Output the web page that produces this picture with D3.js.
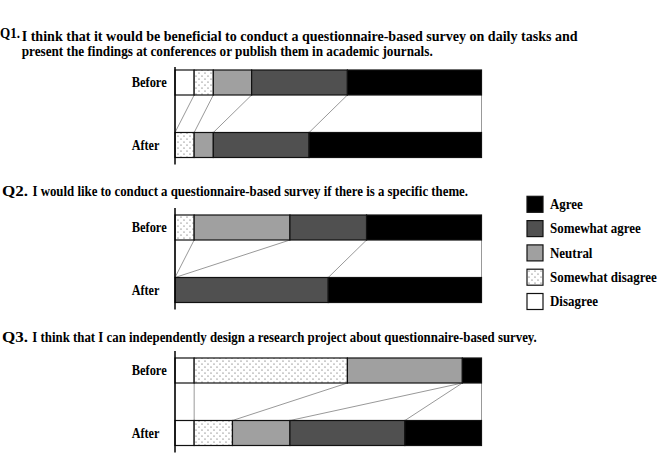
<!DOCTYPE html>
<html>
<head>
<meta charset="utf-8">
<script src="https://cdn.jsdelivr.net/npm/d3@7"></script>
<style>
html,body{margin:0;padding:0;background:#fff;}
svg{display:block;}
text{font-family:"Liberation Serif","Times New Roman",serif;font-weight:bold;fill:#000;}
</style>
</head>
<body>
<svg id="chart" width="669" height="456"></svg>
<script>
// ---- data (counts of respondents, n = 16) ----
const categories = ["Disagree", "Somewhat disagree", "Neutral", "Somewhat agree", "Agree"];
const legendOrder = ["Agree", "Somewhat agree", "Neutral", "Somewhat disagree", "Disagree"];
const rowLabels = ["Before", "After"];
const q1Before = [1, 1, 2, 5, 7];
const q1After  = [0, 1, 1, 5, 9];
const q2Before = [0, 1, 5, 4, 6];
const q2After  = [0, 0, 0, 8, 8];
const q3Before = [1, 8, 6, 0, 1];
const q3After  = [1, 2, 3, 6, 4];
const questionNumbers = ["Q1.", "Q2.", "Q3."];
const questionLines = [
  ["I think that it would be beneficial to conduct a questionnaire-based survey on daily tasks and",
   "present the findings at conferences or publish them in academic journals."],
  ["I would like to conduct a questionnaire-based survey if there is a specific theme."],
  ["I think that I can independently design a research project about questionnaire-based survey."]
];

const questions = [
  {before: q1Before, after: q1After},
  {before: q2Before, after: q2After},
  {before: q3Before, after: q3After}
];

// ---- layout ----
const svg = d3.select("#chart");
const total = 16;
const x = d3.scaleLinear().domain([0, total]).range([175, 481.5]);
const barH = 25, gapH = 37.5;
const panelTops = [70, 215, 358];
const FS = 14.5;
const fills = {
  "Agree": "#000000",
  "Somewhat agree": "#505050",
  "Neutral": "#a0a0a0",
  "Somewhat disagree": "url(#dots)",
  "Disagree": "#ffffff"
};

// dotted pattern
const defs = svg.append("defs");
const pat = defs.append("pattern").attr("id", "dots").attr("patternUnits", "userSpaceOnUse")
  .attr("width", 6).attr("height", 6);
pat.append("rect").attr("width", 6).attr("height", 6).attr("fill", "#fff");
pat.append("circle").attr("cx", 1).attr("cy", 1).attr("r", 0.6).attr("fill", "#444");
pat.append("circle").attr("cx", 4).attr("cy", 4).attr("r", 0.6).attr("fill", "#444");

// ---- titles ----
const titleSpec = [
  {num: {x: 0, y: 37.5, len: 20}, lines: [{x: 21.7, y: 40.5, len: 556}, {x: 21.7, y: 55.5, len: 411}]},
  {num: {x: 2, y: 195.5, len: 26}, lines: [{x: 32.5, y: 195.5, len: 435.5}]},
  {num: {x: 2, y: 341.5, len: 26}, lines: [{x: 32.3, y: 341.5, len: 504.5}]}
];
titleSpec.forEach((t, i) => {
  svg.append("text").attr("x", t.num.x).attr("y", t.num.y)
    .attr("font-size", FS)
    .attr("textLength", t.num.len).attr("lengthAdjust", "spacingAndGlyphs")
    .text(questionNumbers[i]);
  t.lines.forEach((l, j) => {
    svg.append("text").attr("x", l.x).attr("y", l.y)
      .attr("font-size", FS)
      .attr("textLength", l.len).attr("lengthAdjust", "spacingAndGlyphs")
      .text(questionLines[i][j]);
  });
});

// ---- panels ----
function cumul(arr) {
  const c = [0];
  arr.forEach(v => c.push(c[c.length - 1] + v));
  return c;
}
const labelLens = [35, 27.6];

questions.forEach((q, i) => {
  const top = panelTops[i];
  const yB = top, yA = top + barH + gapH;
  const g = svg.append("g");
  const cb = cumul(q.before), ca = cumul(q.after);

  // connector lines
  g.selectAll("line.conn").data(d3.range(cb.length)).join("line")
    .attr("class", "conn")
    .attr("x1", k => x(cb[k])).attr("y1", yB + barH)
    .attr("x2", k => x(ca[k])).attr("y2", yA)
    .attr("stroke", "#999").attr("stroke-width", 1);

  [[q.before, cb, yB], [q.after, ca, yA]].forEach(([vals, c, y0]) => {
    g.selectAll(null).data(categories.map((cat, k) => ({cat, v: vals[k], s: c[k]})).filter(d => d.v > 0))
      .join("rect")
      .attr("x", d => x(d.s)).attr("y", y0)
      .attr("width", d => x(d.s + d.v) - x(d.s)).attr("height", barH)
      .attr("fill", d => fills[d.cat])
      .attr("stroke", "#111").attr("stroke-width", 1.2);
  });

  // axis line
  g.append("line").attr("x1", x(0)).attr("x2", x(0))
    .attr("y1", yB - (i === 0 ? 3 : 7)).attr("y2", yA + barH + 7)
    .attr("stroke", "#000").attr("stroke-width", 1.5);

  // row labels
  [yB, yA].forEach((y0, r) => {
    g.append("text").attr("x", 131.7).attr("y", y0 + barH / 2 + 4.8)
      .attr("font-size", FS)
      .attr("textLength", labelLens[r]).attr("lengthAdjust", "spacingAndGlyphs")
      .text(rowLabels[r]);
  });
});

// ---- legend ----
const lg = svg.append("g");
const legTexts = [];
legendOrder.forEach((cat, k) => {
  const cy = 204.3 + k * 24.3;
  lg.append("rect").attr("x", 527).attr("y", cy - 8).attr("width", 16).attr("height", 16)
    .attr("fill", fills[cat]).attr("stroke", "#111").attr("stroke-width", 1.2);
  legTexts.push(lg.append("text").attr("x", 550).attr("y", cy + 4.8).attr("font-size", FS).text(cat));
});
// condense legend text so the longest label spans the reference width
const longest = legTexts[3].node().getComputedTextLength();
const factor = 106.7 / longest;
legTexts.forEach(t => {
  const w = t.node().getComputedTextLength();
  t.attr("textLength", w * factor).attr("lengthAdjust", "spacingAndGlyphs");
});
</script>
</body>
</html>
